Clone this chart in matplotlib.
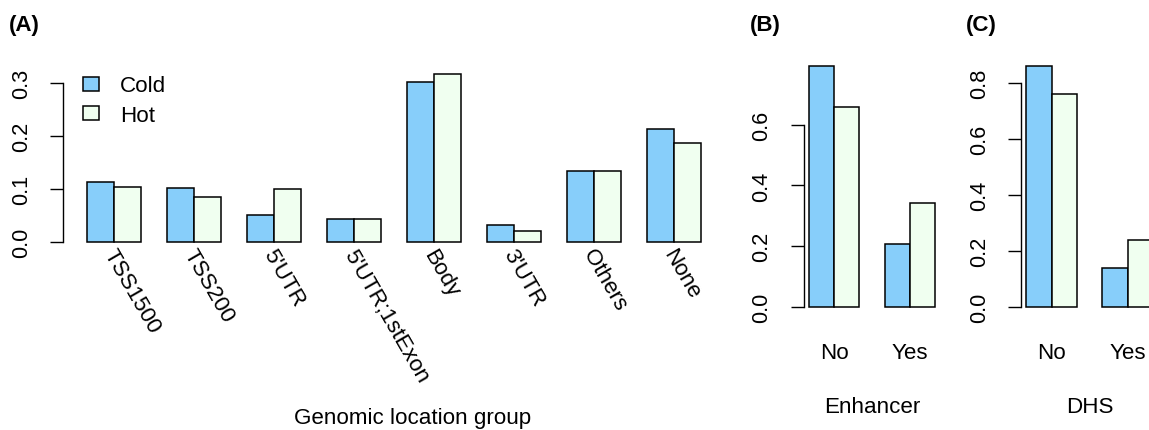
import matplotlib
matplotlib.use('Agg')
import matplotlib.pyplot as plt

plt.rcParams['font.family'] = ['Liberation Sans', 'DejaVu Sans']

# ---- data ----
loc_groups = ['TSS1500', 'TSS200', "5'UTR", "5'UTR;1stExon", 'Body', "3'UTR", 'Others', 'None']
loc_cold = [0.114, 0.103, 0.052, 0.043, 0.303, 0.033, 0.135, 0.214]
loc_hot = [0.105, 0.086, 0.101, 0.044, 0.318, 0.021, 0.135, 0.187]

yn_labels = ['No', 'Yes']
enh_cold = [0.794, 0.206]
enh_hot = [0.659, 0.341]
dhs_cold = [0.862, 0.138]
dhs_hot = [0.761, 0.239]

COLD = '#87CEFA'
HOT = '#F0FFF0'
FS = 16.1
W, H = 1149, 431

fig = plt.figure(figsize=(W / 100, H / 100), dpi=100)


def px_axes(x0, x1, ytop, ybot):
    return fig.add_axes([x0 / W, 1 - ybot / H, (x1 - x0) / W, (ybot - ytop) / H])


def style_axis(ax, yticks, ylabels):
    for s in ['top', 'right', 'bottom']:
        ax.spines[s].set_visible(False)
    ax.spines['left'].set_bounds(yticks[0], yticks[-1])
    ax.spines['left'].set_linewidth(1.0)
    ax.set_yticks(yticks, ylabels, rotation=90, va='center', fontsize=FS - 0.4)
    ax.tick_params(axis='y', length=9.4, width=1.0, pad=13)
    ax.tick_params(axis='x', length=0, pad=18.4, labelsize=FS)


def grouped_bars(ax, cold, hot):
    lefts_c = [1 + 3 * i for i in range(len(cold))]
    lefts_h = [2 + 3 * i for i in range(len(hot))]
    bc = ax.bar(lefts_c, cold, width=1, align='edge', color=COLD, edgecolor='black', linewidth=1.1, label='Cold')
    bh = ax.bar(lefts_h, hot, width=1, align='edge', color=HOT, edgecolor='black', linewidth=1.1, label='Hot')
    return [2 + 3 * i for i in range(len(cold))], bc, bh


# (A) genomic location
axA = px_axes(62.8, 725.2, 68.0, 250.0)
centers, bc, bh = grouped_bars(axA, loc_cold, loc_hot)
axA.set_xlim(0.08, 24.92)
axA.set_ylim(-0.0127, 0.3307)
style_axis(axA, [0, 0.1, 0.2, 0.3], ['0.0', '0.1', '0.2', '0.3'])
axA.set_xticks([])
for c, lab in zip(centers, loc_groups):
    axA.text(c - 0.22, -0.016, lab, rotation=-60, rotation_mode='anchor',
             ha='left', va='center', fontsize=FS)
axA.set_xlabel('Genomic location group', fontsize=FS)
axA.xaxis.set_label_coords(0.528, -0.87)
axA.legend(handles=[bc, bh], loc='upper left', frameon=False, fontsize=FS,
           bbox_to_anchor=(82.7 / W, 1 - 76.5 / H), bbox_transform=fig.transFigure,
           borderpad=0, borderaxespad=0, handlelength=0.74, handleheight=0.6,
           handletextpad=0.92, labelspacing=0.38)

# (B) enhancer
axB = px_axes(803.6, 940.4, 57.0, 317.7)
centers, _, _ = grouped_bars(axB, enh_cold, enh_hot)
axB.set_xlim(0.8, 6.2)
axB.set_ylim(-0.03176, 0.8258)
style_axis(axB, [0, 0.2, 0.4, 0.6], ['0.0', '0.2', '0.4', '0.6'])
axB.set_xticks(centers, yn_labels)
axB.set_xlabel('Enhancer', fontsize=FS)
axB.xaxis.set_label_coords(0.5, -0.305)

# (C) DHS
axC = px_axes(1021.2, 1158.0, 57.0, 317.7)
centers, _, _ = grouped_bars(axC, dhs_cold, dhs_hot)
axC.set_xlim(0.8, 6.2)
axC.set_ylim(-0.0345, 0.8965)
style_axis(axC, [0, 0.2, 0.4, 0.6, 0.8], ['0.0', '0.2', '0.4', '0.6', '0.8'])
axC.set_xticks(centers, yn_labels)
axC.set_xlabel('DHS', fontsize=FS)
axC.xaxis.set_label_coords(0.5, -0.305)

for x, lab in [(9, '(A)'), (750, '(B)'), (966, '(C)')]:
    fig.text(x / W, 1 - 31.5 / H, lab, fontsize=FS, fontweight='bold', ha='left', va='baseline')

fig.savefig('out.png', dpi=100)
